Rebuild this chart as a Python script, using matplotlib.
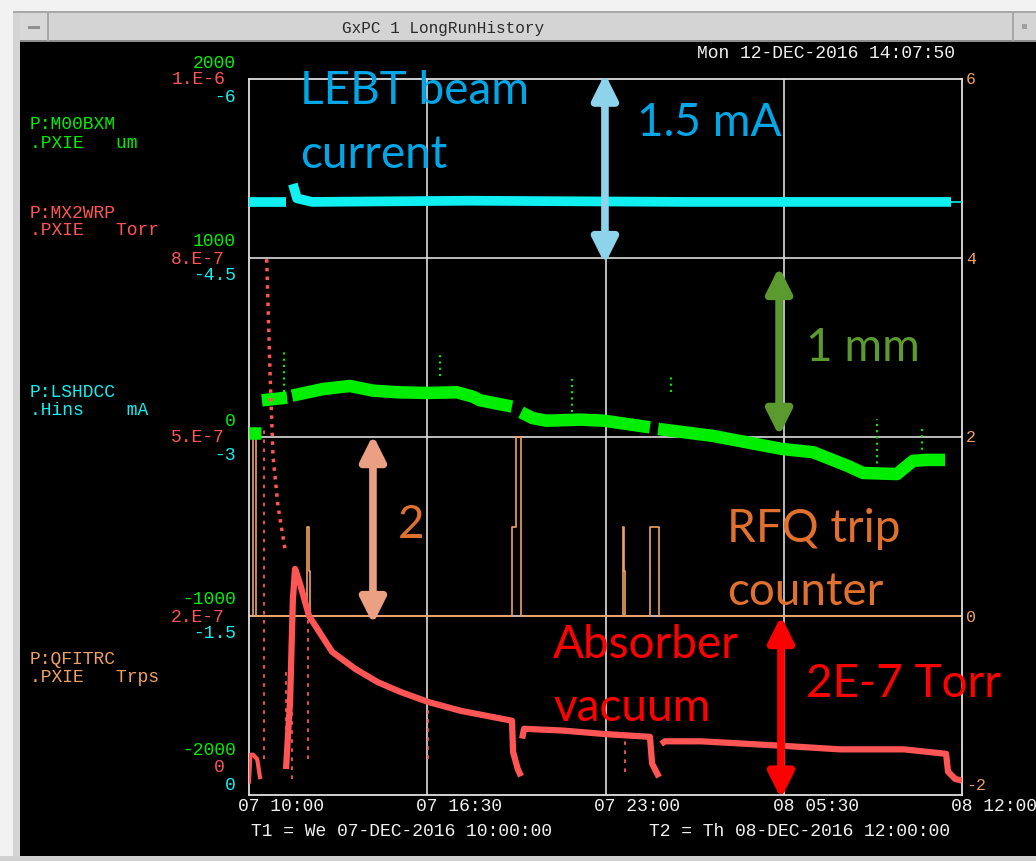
import numpy as np
import matplotlib
matplotlib.use('Agg')
import matplotlib.pyplot as plt
from matplotlib.patches import Rectangle, FancyArrowPatch

W, H = 1036, 862

# time in hours after 07-DEC-2016 10:00
x_ticks = [0, 6.5, 13, 19.5, 26]
x_ticklabels = ['07 10:00', '07 16:30', '07 23:00', '08 05:30', '08 12:00']

# left / right scale labels, top to bottom
green_ticks = ['2000', '1000', '0', '-1000', '-2000']
red_ticks = ['1.E-6', '8.E-7', '5.E-7', '2.E-7', '0']
cyan_ticks = ['-6', '-4.5', '-3', '-1.5', '0']
orange_ticks = ['6', '4', '2', '0', '-2']
red_scale = [0, 2e-7, 5e-7, 8e-7, 1e-6]

# P:LSHDCC beam current (mA)
cyan_t1 = [0.0, 1.35]
cyan_v1 = [-4.97, -4.97]
cyan_t2 = [1.6, 1.75, 2.3, 8.0, 16.0, 25.6]
cyan_v2 = [-5.12, -5.0, -4.97, -4.98, -4.97, -4.97]
cyan_tail_t = [25.6, 26.0]
cyan_tail_v = [-4.97, -4.97]

# P:M00BXM position (um)
green_t1 = [0.0, 0.45]
green_v1 = [22, 22]
green_t2 = [0.47, 1.39]
green_v2 = [205, 220]
green_t3 = [1.57, 2.7, 3.68, 4.52, 5.4, 6.49, 7.58, 8.17, 8.42, 9.59]
green_v3 = [231, 268, 285, 259, 250, 246, 250, 225, 205, 170]
green_t4 = [9.92, 10.35, 10.85, 12.07, 12.95, 14.62]
green_v4 = [138, 105, 91, 97, 91, 54]
green_t5 = [14.92, 16.92, 18.16, 19.44, 20.57, 21.81, 22.39, 23.63, 23.85, 24.22, 24.73, 25.38]
green_v5 = [45, 6, -30, -67, -85, -160, -201, -207, -179, -133, -128, -128]
green_spike_t = [1.28, 6.97, 11.78, 15.39, 22.9, 24.54]
green_spike_lo = [251, 341, 140, 251, -218, -106]
green_spike_hi = [475, 480, 324, 352, 101, 45]

# P:MX2WRP absorber vacuum (Torr)
red_t0 = [0.0, 0.05, 0.15, 0.3, 0.4]
red_v0 = [0.15e-7, 0.45e-7, 0.45e-7, 0.4e-7, 0.2e-7]
red_dot_t = [0.645, 0.766, 0.875, 1.058, 1.313]
red_dot_v = [7.98e-7, 6.09e-7, 4.68e-7, 3.84e-7, 3.12e-7]
red_t1 = [1.35, 1.50, 1.60, 1.68, 1.86, 2.19, 3.03, 3.87, 4.70, 5.54, 6.53, 7.73, 9.59, 9.63, 9.80, 9.92]
red_v1 = [0.29e-7, 1.07e-7, 2.28e-7, 2.79e-7, 2.54e-7, 2.0e-7, 1.60e-7, 1.41e-7, 1.26e-7,
          1.15e-7, 1.04e-7, 0.94e-7, 0.83e-7, 0.48e-7, 0.29e-7, 0.21e-7]
red_t2 = [9.96, 10.03, 11.45, 13.02, 14.62, 14.70, 14.95]
red_v2 = [0.63e-7, 0.74e-7, 0.72e-7, 0.68e-7, 0.65e-7, 0.35e-7, 0.20e-7]
red_t3 = [15.03, 15.17, 16.48, 19.44, 21.55, 23.89, 25.42, 25.49, 25.75, 26.0]
red_v3 = [0.57e-7, 0.60e-7, 0.60e-7, 0.55e-7, 0.51e-7, 0.51e-7, 0.46e-7, 0.26e-7, 0.18e-7, 0.16e-7]
red_spike_t = [0.55, 1.35, 1.57, 2.15, 6.53, 13.7]
red_spike_hi = [5.2e-7, 1.41e-7, 1.74e-7, 2.07e-7, 0.96e-7, 0.63e-7]
red_spike_lo = [0.4e-7, 0.32e-7, 0.18e-7, 0.40e-7, 0.40e-7, 0.26e-7]

# P:QFITRC RFQ trips
orange_t = [0, 0.15, 0.26, 2.13, 2.17, 2.21, 9.59, 9.74, 9.92, 13.64, 13.68, 13.71, 14.62, 14.95, 26]
orange_v = [0, 2, 0, 1, 0.5, 0, 1, 2, 0, 1, 0.5, 0, 1, 0, 0]

GREEN = '#00ee00'
RED = '#ff5555'
CYAN = '#10f0f0'
ORANGE = '#f0a060'
MONO = ['Liberation Mono', 'DejaVu Sans Mono']


def g_pos(v):
    return (np.asarray(v) + 2000) / 1000


def c_pos(v):
    return np.asarray(v) / -1.5


def r_pos(v):
    return np.interp(v, red_scale, [0, 1, 2, 3, 4])


def o_pos(v):
    return (np.asarray(v) + 2) / 2


fig = plt.figure(figsize=(W / 100, H / 100), dpi=100, facecolor='black')


def prect(x0, y0, x1, y1, color, **kw):
    fig.add_artist(Rectangle((x0 / W, 1 - y1 / H), (x1 - x0) / W, (y1 - y0) / H,
                             transform=fig.transFigure, color=color, lw=0, **kw))


def ptext(x, y, s, **kw):
    fig.text(x / W, 1 - y / H, s, **kw)


# window chrome
prect(0, 0, W, 13, '#f2f2f2')
prect(0, 0, 13, H, '#f2f2f2')
prect(13, 13, 20, H, '#d4d4d4')
prect(13, 13, W, 42, '#d4d4d4')
prect(13, 12, W, 14, '#a8a8a8')
prect(20, 41, W, 43, '#8c8c8c')
prect(20, 14, 48, 41, '#d8d8d8')
prect(47, 14, 49, 42, '#a8a8a8')
prect(28, 27, 40, 30, '#909090')
prect(1012, 14, 1014, 42, '#a8a8a8')
prect(1022, 25, 1027, 30, '#a0a0a0')
prect(0, 857, W, H, '#d0d0d0')
ptext(443, 29, 'GxPC 1 LongRunHistory', color='#2a2a2a', fontsize=11.5,
      family=MONO, ha='center', va='center')

ax = fig.add_axes([249 / W, 1 - 796 / H, 713 / W, 716 / H])
ax.set_facecolor('black')
ax.set_xlim(0, 26)
ax.set_ylim(0, 4)
ax.set_xticks([])
ax.set_yticks([])
for sp in ax.spines.values():
    sp.set_color('#e0e0e0')
    sp.set_linewidth(1.3)
for xv in x_ticks[1:-1]:
    ax.axvline(xv, color='#dcdcdc', lw=1.2, zorder=1)
for yv in [1, 2, 3]:
    ax.axhline(yv, color='#dcdcdc', lw=1.2, zorder=1)

# traces
ax.plot(orange_t, o_pos(orange_v), drawstyle='steps-post', color=ORANGE, lw=1.2, zorder=2)

for t, v in [(green_t1, green_v1), (green_t2, green_v2), (green_t3, green_v3),
             (green_t4, green_v4), (green_t5, green_v5)]:
    ax.plot(t, g_pos(v), color=GREEN, lw=9, solid_capstyle='butt', zorder=3)
ax.vlines(green_spike_t, g_pos(green_spike_lo), g_pos(green_spike_hi),
          color=GREEN, lw=1.5, linestyles=(0, (1, 2)), zorder=3)

ax.plot(red_dot_t, r_pos(red_dot_v), color=RED, lw=2.5, linestyle=(0, (1, 1.5)), zorder=4)
ax.vlines(red_spike_t, r_pos(red_spike_lo), r_pos(red_spike_hi),
          color=RED, lw=1.3, linestyles=(0, (2, 3)), zorder=4)
ax.plot(red_t0, r_pos(red_v0), color=RED, lw=3, zorder=4)
for t, v in [(red_t1, red_v1), (red_t2, red_v2), (red_t3, red_v3)]:
    ax.plot(t, r_pos(v), color=RED, lw=4.5, solid_capstyle='butt', zorder=4)

ax.plot(cyan_t1, c_pos(cyan_v1), color=CYAN, lw=7, solid_capstyle='butt', zorder=5)
ax.plot(cyan_t2, c_pos(cyan_v2), color=CYAN, lw=7, solid_capstyle='butt', zorder=5)
ax.plot(cyan_tail_t, c_pos(cyan_tail_v), color=CYAN, lw=1.2, zorder=5)

# scale labels
for i in range(5):
    yv = 4 - i
    dg, dr, dc = (17, 0, -17) if i < 4 else (45, 28, 10)
    for txt, col, dx, dy in [(green_ticks[i], GREEN, -13, dg), (red_ticks[i], RED, -24, dr),
                             (cyan_ticks[i], CYAN, -13, dc)]:
        ax.annotate(txt, xy=(0, yv), xycoords=('axes fraction', 'data'),
                    xytext=(dx, dy), textcoords='offset pixels', ha='right', va='center',
                    color=col, fontsize=13, family=MONO, annotation_clip=False)
    ax.annotate(orange_ticks[i], xy=(1, yv), xycoords=('axes fraction', 'data'),
                xytext=(4, 0 if i < 4 else 10), textcoords='offset pixels', ha='left',
                va='center', color=ORANGE, fontsize=12, family=MONO, annotation_clip=False)
for xv, lab in zip(x_ticks, x_ticklabels):
    ax.annotate(lab, xy=(xv, 0), xycoords=('data', 'axes fraction'), xytext=(-11, -11),
                textcoords='offset pixels', ha='left', va='center', color='#f0f0f0',
                fontsize=13, family=MONO, annotation_clip=False)

# channel names
for y0, l1, l2, col in [(125, 'P:M00BXM', '.PXIE   um', GREEN),
                        (213, 'P:MX2WRP', '.PXIE   Torr', RED),
                        (393, 'P:LSHDCC', '.Hins    mA', CYAN),
                        (660, 'P:QFITRC', '.PXIE   Trps', ORANGE)]:
    ptext(30, y0, l1, color=col, fontsize=13, family=MONO, va='center')
    ptext(30, y0 + 18, l2, color=col, fontsize=13, family=MONO, va='center')

ptext(697, 53, 'Mon 12-DEC-2016 14:07:50', color='#f0f0f0', fontsize=13, family=MONO, va='center')
ptext(251, 832, 'T1 = We 07-DEC-2016 10:00:00', color='#f0f0f0', fontsize=13, family=MONO, va='center')
ptext(649, 832, 'T2 = Th 08-DEC-2016 12:00:00', color='#f0f0f0', fontsize=13, family=MONO, va='center')

# annotations
BLUE_T = '#00a6e6'
OLIVE = '#5a9a2e'
RUST = '#e0702e'
ann_font = dict(family='Lato', fontsize=33, va='baseline', ha='left', zorder=10)
ptext(300, 104, 'LEBT beam', color=BLUE_T, **ann_font)
ptext(300, 168, 'current', color=BLUE_T, **ann_font)
ptext(637, 136, '1.5 mA', color=BLUE_T, **ann_font)
ptext(806, 361, '1 mm', color=OLIVE, **ann_font)
ptext(398, 538, '2', color=RUST, **ann_font)
ptext(727, 542, 'RFQ trip', color=RUST, **ann_font)
ptext(727, 605, 'counter', color=RUST, **ann_font)
ptext(553, 658, 'Absorber', color='#ff0000', **ann_font)
ptext(553, 721, 'vacuum', color='#ff0000', **ann_font)
ptext(806, 697, '2E-7 Torr', color='#ff0000', **ann_font)

for xh, y0, y1, col in [(12.98, 4.03, 2.966, '#8dd3ec'), (19.33, 2.95, 2.006, OLIVE),
                        (4.52, 2.011, 0.955, '#eba084'), (19.4, 1.0, -0.02, '#ff0000')]:
    arr = FancyArrowPatch((xh, y0), (xh, y1), arrowstyle='<|-|>,head_length=15,head_width=7.5',
                          mutation_scale=1, lw=5.5, color=col, shrinkA=0, shrinkB=0,
                          zorder=9, clip_on=False)
    ax.add_patch(arr)

plt.savefig('out.png', dpi=100, facecolor='black')
